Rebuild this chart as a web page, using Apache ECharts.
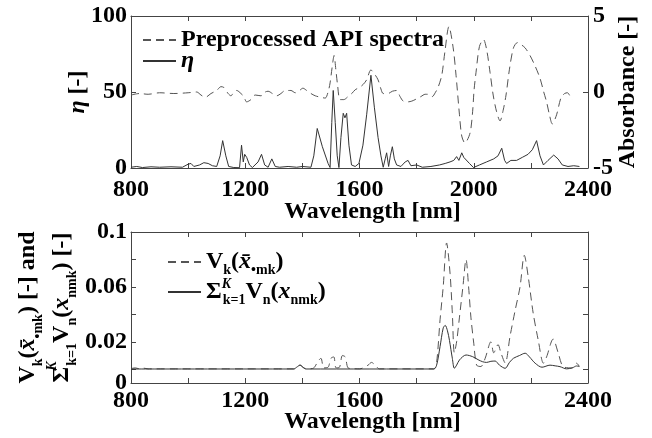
<!DOCTYPE html>
<html><head><meta charset="utf-8">
<script src="https://cdn.jsdelivr.net/npm/echarts@6/dist/echarts.min.js"></script>
<style>html,body{margin:0;padding:0;background:#fff}#c{width:652px;height:438px}</style>
</head><body><div id="c"></div>
<script>
// ---------- data ----------
const xTicks = [800, 1000, 1200, 1400, 1600, 1800, 2000, 2200, 2400];
const xTickLabels = [800, 1200, 1600, 2000, 2400];
const etaTicks = [0, 50, 100];
const absTicks = [-5, 0, 5];
const vTicks = [0, 0.02, 0.04, 0.06, 0.08, 0.1];
const vLabelPos = [-0.01, 0.02, 0.06, 0.1];
const vLabelText = ['0', '0.02', '0.06', '0.1'];

const absWl = [800,830,860,900,950,1000,1030,1045,1060,1080,1100,1115,1125,1140,1150,1160,1170,1185,1195,1205,1220,1235,1255,1270,1280,1295,1310,1325,1340,1360,1375,1390,1402,1415,1430,1445,1465,1480,1490,1497,1504,1511,1517,1523,1532,1545,1560,1573,1585,1600,1613,1625,1640,1652,1665,1675,1683,1700,1715,1730,1742,1753,1768,1783,1800,1815,1830,1845,1855,1865,1875,1888,1899,1913,1928,1938,1950,1958,1969,1987,1996,2001,2008,2020,2034,2045,2057,2068,2080,2092,2103,2113,2125,2139,2153,2167,2180,2197,2215,2232,2245,2255,2265,2275,2290,2305,2318,2328,2338,2345];
const absVal = [-0.2,-0.1,-0.15,-0.05,-0.1,-0.05,0,-0.2,-0.35,-0.1,0.1,0.35,0.3,-0.1,-0.25,0,0.1,-0.1,-0.3,-0.65,-0.5,-0.2,-0.25,0,0.05,-0.1,-0.25,-0.1,0.1,0.1,-0.05,0.1,0.25,0.1,-0.1,-0.25,-0.35,-0.4,0,0.6,1.6,2.4,1.5,0.5,-0.5,-0.5,-0.3,-0.1,0.15,0.3,0.5,0.8,1.45,1.2,0.8,0.2,-0.1,-0.1,0.05,0.1,-0.3,-0.6,-0.65,-0.6,-0.45,-0.3,-0.15,-0.15,-0.3,-0.05,0.3,1.1,2.65,4.3,2.9,1.1,-1.5,-2.9,-3.35,-2.7,-1.3,0.1,1.3,3.0,3.45,2.8,1.3,-0.2,-1.3,-1.9,-1.2,-0.2,1.5,2.9,3.25,3.1,2.9,2.4,1.7,0.9,0,-0.65,-1.5,-2.1,-1.5,-0.4,-0.1,-0.05,-0.3,-0.5];

const etaWl = [800,820,840,870,900,940,980,1000,1010,1020,1040,1055,1070,1085,1100,1112,1121,1132,1142,1160,1180,1187,1193,1198,1205,1215,1225,1245,1257,1268,1280,1293,1305,1320,1350,1380,1400,1430,1440,1452,1470,1490,1497,1503,1508,1515,1522,1528,1535,1543,1549,1555,1563,1572,1585,1598,1612,1625,1640,1652,1665,1675,1683,1690,1695,1702,1708,1715,1722,1730,1745,1760,1770,1780,1800,1820,1850,1880,1900,1917,1930,1940,1948,1958,1965,1972,1985,1999,2020,2045,2070,2085,2098,2108,2115,2130,2150,2170,2190,2205,2220,2232,2244,2260,2280,2295,2310,2330,2350,2370];
const etaVal = [0.5,1,0.3,0.8,0.5,0.8,0.5,2.5,3,1,2,3.5,3,1.5,1,8,18,8,1,0.3,0.2,15,4,9,7,2,0.3,4,9,2,0.5,6,1,0.5,1,0.5,1,0.5,8,26,14,3,0.3,30,51,30,8,0.3,20,36,33,36,15,2,1,3,15,35,61,40,20,8,0.5,6,10,1,8,14,6,2,1,4,5,1.5,2,0.5,1,2,3,4,5,7.5,5,10,7,6.5,3,0.3,2,4,6,8,13,5,3,5,5,7,9,12,18,8,2,5,8.5,6,2,1,1.5,1];

const vkWl = [800,815,830,845,860,880,1000,1200,1370,1392,1405,1420,1440,1455,1465,1475,1490,1500,1510,1518,1530,1540,1550,1560,1575,1600,1630,1642,1655,1670,1860,1870,1882,1893,1905,1917,1925,1932,1940,1950,1962,1973,1982,1990,2000,2010,2025,2040,2060,2070,2085,2095,2110,2127,2145,2162,2177,2191,2208,2226,2244,2255,2278,2296,2313,2343,2360,2370];
const vkVal = [0.0005,0.001,0.0003,0.0008,0.0003,0.0003,0.0003,0.0003,0.0003,0.003,0.001,0.0003,0.001,0.006,0.008,0.001,0.0015,0.008,0.009,0.001,0.0015,0.01,0.009,0.001,0.0005,0.0003,0.003,0.005,0.003,0.0003,0.0003,0.005,0.036,0.06,0.092,0.07,0.041,0.012,0.02,0.038,0.06,0.08,0.06,0.038,0.019,0.003,0.002,0.008,0.02,0.012,0.018,0.012,0.0046,0.024,0.043,0.06,0.083,0.067,0.041,0.021,0.0044,0.009,0.022,0.0117,0.002,0.001,0.0044,0.002];

const sumWl = [800,1370,1380,1392,1402,1412,1860,1870,1882,1893,1900,1908,1915,1925,1932,1940,1950,1973,1996,2015,2031,2045,2060,2075,2090,2110,2125,2139,2160,2180,2195,2215,2239,2267,2285,2302,2325,2345,2360,2369];
const sumVal = [0.0002,0.0002,0.0015,0.003,0.0015,0.0002,0.0002,0.003,0.0165,0.03,0.032,0.028,0.021,0.008,0.0007,0.003,0.0068,0.0104,0.0092,0.007,0.0055,0.005,0.0058,0.006,0.003,0.0007,0.005,0.008,0.01,0.0117,0.009,0.0044,0.0015,0.003,0.0025,0.0019,0.0003,0.001,0.0024,0.002];

// ---------- styling ----------
const F = "'Liberation Serif', 'DejaVu Serif', 'Noto Serif', serif";
const AX = '#444';
const zip = (xs, ys) => xs.map((x, i) => [x, ys[i]]);
const txt = {fontFamily: F, fontWeight: 'bold', fontSize: 24, color: '#000'};
const tickTxt = Object.assign({lineHeight: 18}, txt);
function mkRich(lh) {
  return {
    b:   {fontFamily: F, fontWeight: 'bold', fontSize: 24, color: '#000', lineHeight: lh},
    bi:  {fontFamily: F, fontWeight: 'bold', fontStyle: 'italic', fontSize: 24, color: '#000', lineHeight: lh},
    sub: {fontFamily: F, fontWeight: 'bold', fontSize: 14, color: '#000', verticalAlign: 'bottom', lineHeight: 10},
    sup: {fontFamily: F, fontWeight: 'bold', fontStyle: 'italic', fontSize: 14, color: '#000', verticalAlign: 'top', lineHeight: 14, width: 1, align: 'left'}
  };
}
const rich = mkRich(30);
const richName = mkRich(34);
const richTop = {
  b:  {fontFamily: F, fontWeight: 'bold', fontSize: 24, color: '#000', lineHeight: 20},
  i:  {fontFamily: F, fontWeight: 'bold', fontStyle: 'italic', fontSize: 24, color: '#000', lineHeight: 20}
};
const labels = {
  'Preprocessed API spectra': '{b|Preprocessed API spectra}',
  'η': '{i|η}',
  'Vk': '{b|V}{sub|k}{b|(}{bi|x̄}{sub|•mk}{b|)}',
  'sum': '{b|Σ}{sup|K}{sub|k=1}{b|V}{sub|n}{b|(}{bi|x}{sub|nmk}{b|)}'
};
const plain = v => String(v);

function xMain(gi, gap, margin) {
  return {type: 'value', gridIndex: gi, min: 800, max: 2400, position: 'bottom',
    axisLine: {onZero: false, lineStyle: {color: AX}},
    axisTick: {inside: true, length: 5, customValues: xTicks, lineStyle: {color: AX}},
    axisLabel: Object.assign({customValues: xTickLabels, margin: margin, formatter: plain}, tickTxt),
    splitLine: {show: false},
    name: 'Wavelength [nm]', nameLocation: 'middle', nameGap: gap, nameMoveOverlap: false,
    nameTextStyle: Object.assign({padding: [0, 0, 0, 26]}, txt)};
}
function xFrame(gi) {
  return {type: 'value', gridIndex: gi, min: 800, max: 2400, position: 'top',
    axisLine: {onZero: false, lineStyle: {color: AX}},
    axisTick: {inside: true, length: 5, customValues: xTicks, lineStyle: {color: AX}},
    axisLabel: {show: false}, splitLine: {show: false}};
}
function leg(name, left, top, r, lh) {
  return {orient: 'vertical', left: left, top: top, padding: 0, itemWidth: 33, itemHeight: 10, itemGap: 0,
    itemStyle: {opacity: 0}, data: [name], formatter: n => labels[n],
    textStyle: Object.assign({rich: r}, txt, {lineHeight: lh})};
}

const option = {
  backgroundColor: '#fff',
  animation: false,
  textStyle: {fontFamily: F},
  grid: [
    {left: 131, right: 64, top: 16, height: 152, outerBoundsMode: 'none'},
    {left: 131, right: 64, top: 232, height: 151, outerBoundsMode: 'none'}
  ],
  xAxis: [xMain(0, 32, 13), xFrame(0), xMain(1, 27, 9), xFrame(1)],
  yAxis: [
    {type: 'value', gridIndex: 0, min: 0, max: 100, position: 'left',
     axisLine: {onZero: false, lineStyle: {color: AX}},
     axisTick: {inside: true, length: 5, customValues: etaTicks, lineStyle: {color: AX}},
     axisLabel: Object.assign({customValues: etaTicks, margin: 4, formatter: plain}, tickTxt),
     splitLine: {show: false},
     name: '{i|η} [-]', nameLocation: 'middle', nameGap: 41, nameRotate: 90, nameMoveOverlap: false,
     nameTextStyle: Object.assign({rich: {i: {fontFamily: F, fontWeight: 'bold', fontStyle: 'italic', fontSize: 24, color: '#000'}}}, txt)},
    {type: 'value', gridIndex: 0, min: -5, max: 5, position: 'right',
     axisLine: {onZero: false, lineStyle: {color: AX}},
     axisTick: {inside: true, length: 5, customValues: absTicks, lineStyle: {color: AX}},
     axisLabel: Object.assign({customValues: absTicks, margin: 5, formatter: plain}, tickTxt),
     splitLine: {show: false},
     name: 'Absorbance [-]', nameLocation: 'middle', nameGap: 28, nameRotate: 90, nameMoveOverlap: false,
     nameTextStyle: txt},
    {type: 'value', gridIndex: 1, min: -0.01, max: 0.1, position: 'left',
     axisLine: {onZero: false, lineStyle: {color: AX}},
     axisTick: {inside: true, length: 5, customValues: vTicks, lineStyle: {color: AX}},
     axisLabel: Object.assign({customValues: vLabelPos, margin: 4,
       formatter: v => vLabelText[vLabelPos.findIndex(p => Math.abs(p - v) < 1e-9)] ?? ''}, tickTxt),
     splitLine: {show: false},
     name: '{b|V}{sub|k}{b|(}{bi|x̄}{sub|•mk}{b|) [-] and}\n{b|Σ}{sup|K}{sub|k=1}{b|V}{sub|n}{b|(}{bi|x}{sub|nmk}{b|) [-]}',
     nameLocation: 'middle', nameGap: 52, nameRotate: 90, nameMoveOverlap: false,
     nameTextStyle: Object.assign({rich: richName}, txt, {lineHeight: 34})},
    {type: 'value', gridIndex: 1, min: -0.01, max: 0.1, position: 'right',
     axisLine: {onZero: false, lineStyle: {color: AX}},
     axisTick: {inside: true, length: 5, customValues: vTicks, lineStyle: {color: AX}},
     axisLabel: {show: false}, splitLine: {show: false}}
  ],
  legend: [
    leg('Preprocessed API spectra', 142, 28, richTop, 20),
    leg('η', 142, 49, richTop, 20),
    leg('Vk', 167, 247, rich, 30),
    leg('sum', 167, 277, rich, 30)
  ],
  series: [
    {name: 'Preprocessed API spectra', type: 'line', xAxisIndex: 0, yAxisIndex: 1, data: zip(absWl, absVal),
     symbol: 'none', smooth: 0.3, lineStyle: {color: '#555', width: 1, type: [8, 5]}, itemStyle: {color: '#555'}},
    {name: 'η', type: 'line', xAxisIndex: 0, yAxisIndex: 0, data: zip(etaWl, etaVal),
     symbol: 'none', lineStyle: {color: '#333', width: 1}, itemStyle: {color: '#333'}},
    {name: 'Vk', type: 'line', xAxisIndex: 2, yAxisIndex: 2, data: zip(vkWl, vkVal),
     symbol: 'none', smooth: 0.3, lineStyle: {color: '#555', width: 1, type: [8, 5]}, itemStyle: {color: '#555'}},
    {name: 'sum', type: 'line', xAxisIndex: 2, yAxisIndex: 2, data: zip(sumWl, sumVal),
     symbol: 'none', smooth: 0.3, lineStyle: {color: '#333', width: 1}, itemStyle: {color: '#333'}}
  ]
};
const chart = echarts.init(document.getElementById('c'), null, {renderer: 'canvas'});
chart.setOption(option);
</script></body></html>
